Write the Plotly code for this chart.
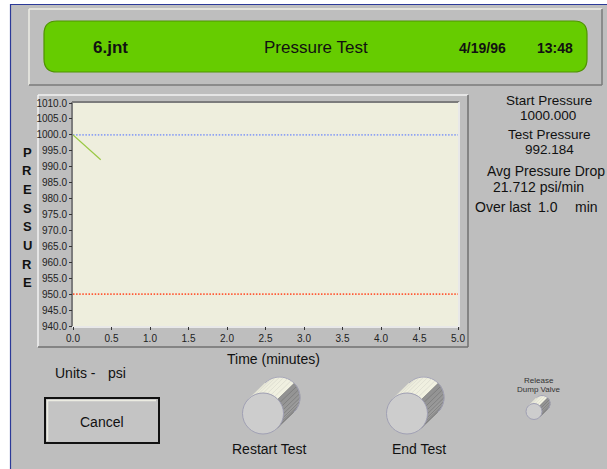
import math
import plotly.graph_objects as go

# ---------------- data ----------------
time_min = [0.0, 0.36]
pressure_psi = [1000.0, 992.184]
start_pressure = 1000.0
limit_pressure = 950.0
x_ticks = [0.0, 0.5, 1.0, 1.5, 2.0, 2.5, 3.0, 3.5, 4.0, 4.5, 5.0]
y_ticks = [940.0, 945.0, 950.0, 955.0, 960.0, 965.0, 970.0, 975.0, 980.0,
           985.0, 990.0, 995.0, 1000.0, 1005.0, 1010.0]
x_range = [0.0, 5.0]
y_range = [940.0, 1010.0]

# ---------------- geometry helpers (pixel -> paper) ----------------
W, H = 607, 469
L, R, T, B = 73, 458, 103, 326


def px(x):
    return (x - L) / (R - L)


def py(y):
    return (B - y) / (B - T)


def P(x, y):
    return f"{px(x):.5f},{py(y):.5f}"


shapes = []


def rect(x0, y0, x1, y1, fill, line="rgba(0,0,0,0)", lw=0, layer="below"):
    shapes.append(dict(type="rect", xref="paper", yref="paper",
                       x0=px(x0), x1=px(x1), y0=py(y1), y1=py(y0),
                       fillcolor=fill, line=dict(color=line, width=lw), layer=layer))


def seg(x0, y0, x1, y1, color, lw=1, layer="below"):
    shapes.append(dict(type="line", xref="paper", yref="paper",
                       x0=px(x0), x1=px(x1), y0=py(y0), y1=py(y1),
                       line=dict(color=color, width=lw), layer=layer))


def path(pts, fill, line, lw, close=True, layer="below"):
    s = "M " + " L ".join(P(x, y) for x, y in pts) + (" Z" if close else "")
    shapes.append(dict(type="path", xref="paper", yref="paper", path=s,
                       fillcolor=fill, line=dict(color=line, width=lw), layer=layer))


def rrect(x0, y0, x1, y1, r, fill, line, lw):
    s = (f"M {P(x0 + r, y0)} L {P(x1 - r, y0)} Q {P(x1, y0)} {P(x1, y0 + r)} "
         f"L {P(x1, y1 - r)} Q {P(x1, y1)} {P(x1 - r, y1)} "
         f"L {P(x0 + r, y1)} Q {P(x0, y1)} {P(x0, y1 - r)} "
         f"L {P(x0, y0 + r)} Q {P(x0, y0)} {P(x0 + r, y0)} Z")
    shapes.append(dict(type="path", xref="paper", yref="paper", path=s,
                       fillcolor=fill, line=dict(color=line, width=lw), layer="below"))


def knob(cx, cy, r, dx, dy, n=16):
    bx, by = cx + dx, cy + dy
    a = math.atan2(dy, dx)
    for i in range(n):
        f0 = a - math.pi / 2 + math.pi * i / n
        f1 = a - math.pi / 2 + math.pi * (i + 1) / n
        pts = [(cx + r * math.cos(f0), cy + r * math.sin(f0)),
               (cx + r * math.cos(f1), cy + r * math.sin(f1)),
               (bx + r * math.cos(f1), by + r * math.sin(f1)),
               (bx + r * math.cos(f0), by + r * math.sin(f0))]
        t = (i + 0.5) / n
        if t < 0.5:
            c = int(236 + 12 * t)
            fill = f"rgb({c},{c},{c - 16})"
            ln = "rgb(222,222,208)"
        else:
            c = int(145 + 40 * (t - 0.5))
            fill = f"rgb({c},{c},{c})"
            ln = "rgb(112,112,112)"
        path(pts, fill, ln, 0.5, layer="above")
    arc = [(bx + r * math.cos(a - math.pi / 2 + math.pi * k / 24),
            by + r * math.sin(a - math.pi / 2 + math.pi * k / 24)) for k in range(25)]
    path(arc, "rgba(0,0,0,0)", "#a4a4b8", 1, close=False, layer="above")
    shapes.append(dict(type="circle", xref="paper", yref="paper",
                       x0=px(cx - r), x1=px(cx + r), y0=py(cy + r), y1=py(cy - r),
                       fillcolor="#cdcdcd", line=dict(color="#a0a0b4", width=1), layer="above"))


BG = "#bebebe"

# window outline
rect(0, 0, 10, H, "white")
rect(0, 0, W, 4, "white")
seg(10, 4.5, W, 4.5, "#2c3a98", 1.2)
seg(10.5, 4, 10.5, H, "#2c3a98", 1.2)

# header panel
rect(29, 9, 602, 85, BG)
seg(29, 9, 602, 9, "#ecece4", 1.5)
seg(29, 9, 29, 85, "#ecece4", 1.5)
seg(29, 85, 602, 85, "#7a7a7a", 1.5)
seg(602, 9, 602, 85, "#7a7a7a", 1.5)
rrect(44, 21, 587, 72, 13, "#66cc00", "#4f9400", 1.2)

# graph frame
rect(38, 95, 468, 347, BG)
seg(38, 95, 468, 95, "#f2f2f2", 1.5)
seg(38, 95, 38, 347, "#f2f2f2", 1.5)
seg(38, 347, 468, 347, "#707070", 1.5)
seg(468, 95, 468, 347, "#707070", 1.5)
rect(L, T, R, B, "#eeeedd")
seg(L - 1, T - 1, R + 1, T - 1, "#7c7c7c", 2)
seg(L - 1, T - 1, L - 1, B + 1, "#7c7c7c", 2)
seg(L - 1, B + 1, R + 1, B + 1, "#f6f6f6", 1.5)
seg(R + 1, T - 1, R + 1, B + 1, "#f6f6f6", 1.5)

# cancel button
rect(45, 398, 159, 443, "#c4c4c4", "#111111", 2)
seg(48, 400.5, 156, 400.5, "#ecece2", 1.5)
seg(47.5, 400, 47.5, 441, "#ecece2", 1.5)

# knobs
knob(263, 413.5, 20.5, 16.5, -16)
knob(407, 413.5, 20.5, 16.5, -16)
knob(534, 411.5, 8, 8, -8, n=10)

# ---------------- traces ----------------
fig = go.Figure()
fig.add_trace(go.Scatter(x=x_range, y=[start_pressure, start_pressure], mode="lines",
                         line=dict(color="#8ea2f2", width=1.6, dash="1.5px,1.6px"),
                         hoverinfo="skip", showlegend=False))
fig.add_trace(go.Scatter(x=x_range, y=[limit_pressure, limit_pressure], mode="lines",
                         line=dict(color="#ff5a36", width=1.6, dash="1.5px,1.6px"),
                         hoverinfo="skip", showlegend=False))
fig.add_trace(go.Scatter(x=time_min, y=pressure_psi, mode="lines",
                         line=dict(color="#99c844", width=1.2), showlegend=False))

# ---------------- annotations ----------------
ann = []
FONT = "Liberation Sans, Arial, sans-serif"


def text(x, y, s, size=14, bold=False, anchor="center", color="#111111"):
    ann.append(dict(x=px(x), y=py(y), xref="paper", yref="paper", text=f"<b>{s}</b>" if bold else s,
                    showarrow=False, xanchor=anchor, yanchor="middle",
                    font=dict(family=FONT, size=size, color=color)))


text(110.5, 48, "6.jnt", 17, True)
text(316, 48, "Pressure Test", 17)
text(483, 48, "4/19/96", 14, True)
text(555, 48, "13:48", 14, True)

for i, ch in enumerate("PRESSURE"):
    text(27, 152 + i * 18.7, ch, 13, True)

text(273.5, 359, "Time (minutes)", 14)

text(549, 100.5, "Start Pressure", 13.5)
text(547.5, 116, f"{start_pressure:.3f}", 13.5)
text(549, 134, "Test Pressure", 13.5)
text(549, 149.5, f"{pressure_psi[-1]:.3f}", 13.5)
text(546, 171, "Avg Pressure Drop", 14)
text(538, 187, "21.712 psi/min", 14)
text(473, 207, "Over last", 14, anchor="left")
text(547.5, 207, "1.0", 14)
text(573, 207, "min", 14, anchor="left")

text(53, 373, "Units -", 14, anchor="left")
text(106, 373, "psi", 14, anchor="left")
text(101.5, 421.5, "Cancel", 14)
text(269, 449, "Restart Test", 14)
text(419, 449, "End Test", 14)
text(539, 380, "Release", 8, color="#333333")
text(539, 389.5, "Dump Valve", 8, color="#333333")

TICKFONT = dict(family="Liberation Sans Narrow, Liberation Sans, Arial", size=10, color="#222222")

fig.update_layout(
    width=W, height=H, autosize=False,
    margin=dict(l=L, r=W - R, t=T, b=H - B, pad=0),
    paper_bgcolor=BG, plot_bgcolor="#eeeedd",
    shapes=shapes, annotations=ann,
    xaxis=dict(range=x_range, tickvals=x_ticks, ticktext=[f"{v:.1f}" for v in x_ticks],
               ticks="outside", ticklen=3, tickcolor="#333333", showgrid=False,
               zeroline=False, showline=False, tickfont=TICKFONT, fixedrange=True),
    yaxis=dict(range=y_range, tickvals=y_ticks, ticktext=[f"{v:.1f}" for v in y_ticks],
               ticks="outside", ticklen=3, tickcolor="#333333", showgrid=False,
               zeroline=False, showline=False, tickfont=TICKFONT, fixedrange=True),
    showlegend=False,
)

fig.write_html("out.html", post_script="document.body.style.margin='0';",
               config={"displayModeBar": False})
